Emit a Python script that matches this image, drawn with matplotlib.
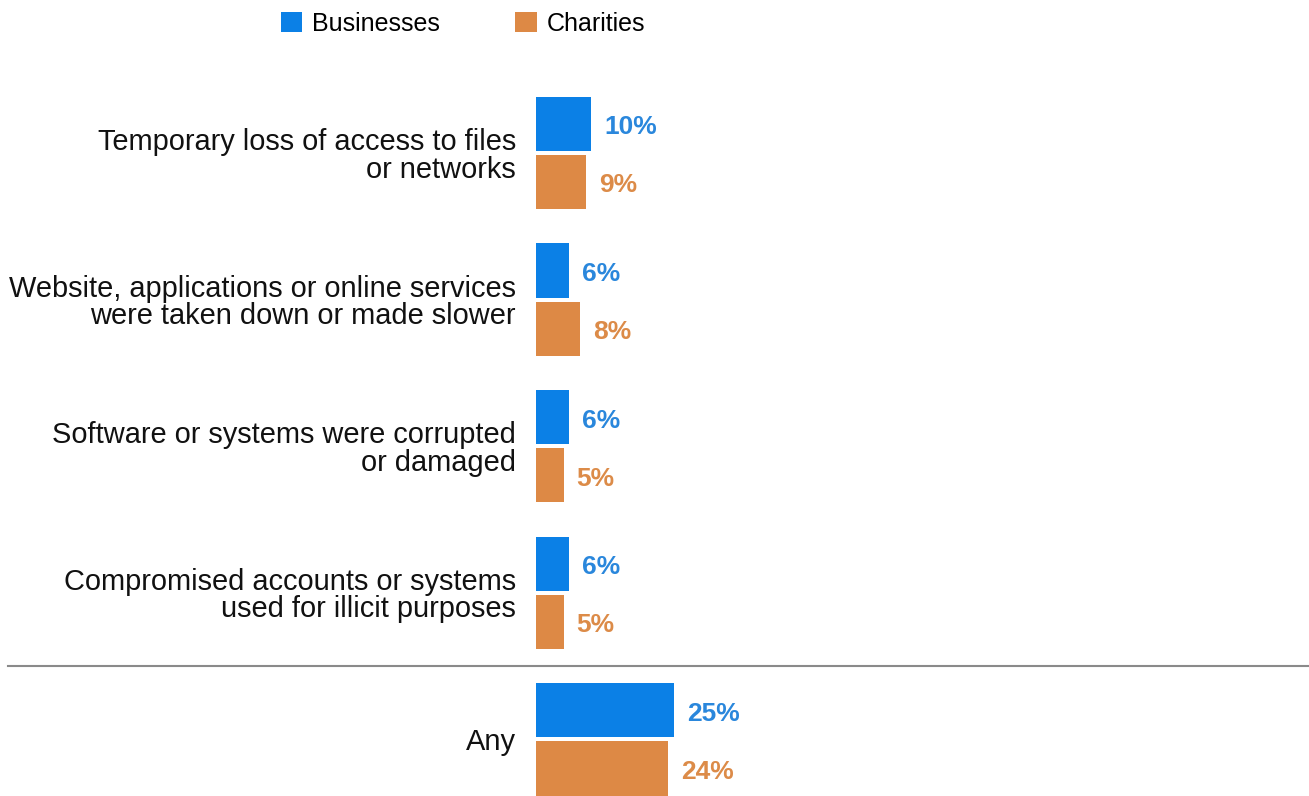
import matplotlib
matplotlib.use("Agg")
import matplotlib.pyplot as plt
from matplotlib.lines import Line2D
from matplotlib.patches import Patch

plt.rcParams['font.family'] = ['Liberation Sans', 'DejaVu Sans']

categories = [
    "Temporary loss of access to files\nor networks",
    "Website, applications or online services\nwere taken down or made slower",
    "Software or systems were corrupted\nor damaged",
    "Compromised accounts or systems\nused for illicit purposes",
    "Any",
]
businesses = [10, 6, 6, 6, 25]
charities = [9, 8, 5, 5, 24]
series_names = ["Businesses", "Charities"]

blue = "#0b80e6"
orange = "#dd8945"
blue_text = "#2a87dc"
orange_text = "#dc8b48"

W, H = 1309, 796
fig = plt.figure(figsize=(W / 100, H / 100), dpi=100)
ax = fig.add_axes([536 / W, 0, (W - 536) / W, 1])

px_per_pct = 5.5
ax.set_xlim(0, (W - 536) / px_per_pct)
group_px = 146.6
first_px = 153
ax.set_ylim((H - first_px) / group_px, -first_px / group_px)

bar_h = 0.37
offset = 0.198
ys = list(range(len(categories)))
yb = [y - offset for y in ys]
yc = [y + offset for y in ys]
bb = ax.barh(yb, businesses, height=bar_h, color=blue)
bc = ax.barh(yc, charities, height=bar_h, color=orange)

for rect, v in zip(bb, businesses):
    ax.annotate(f"{v}%", (rect.get_width(), rect.get_y() + rect.get_height() / 2),
                xytext=(9.5, -2.5), textcoords="offset points", ha="left", va="center",
                fontsize=19, fontweight="bold", color=blue_text)
for rect, v in zip(bc, charities):
    ax.annotate(f"{v}%", (rect.get_width(), rect.get_y() + rect.get_height() / 2),
                xytext=(9.5, -2.5), textcoords="offset points", ha="left", va="center",
                fontsize=19, fontweight="bold", color=orange_text)

ax.set_yticks(ys)
ax.set_yticklabels(categories, fontsize=20.9, color="#111111", linespacing=0.98)
ax.tick_params(axis="y", length=0, pad=14.4)
ax.set_xticks([])
for s in ax.spines.values():
    s.set_visible(False)

# divider above the "Any" row
fig.add_artist(Line2D([8 / W, 1], [1 - 666 / H, 1 - 666 / H],
                      transform=fig.transFigure, color="#8a8a8a", lw=1.5))

handles = [Patch(facecolor=blue, edgecolor="none"), Patch(facecolor=orange, edgecolor="none")]
fig.legend(handles, series_names, loc="center", bbox_to_anchor=(463 / W, 1 - 24 / H),
           ncol=2, frameon=False, fontsize=18, handlelength=0.87, handleheight=0.87,
           handletextpad=0.4, columnspacing=3.0, borderpad=0)

fig.savefig("out.png", dpi=100, facecolor="white")
